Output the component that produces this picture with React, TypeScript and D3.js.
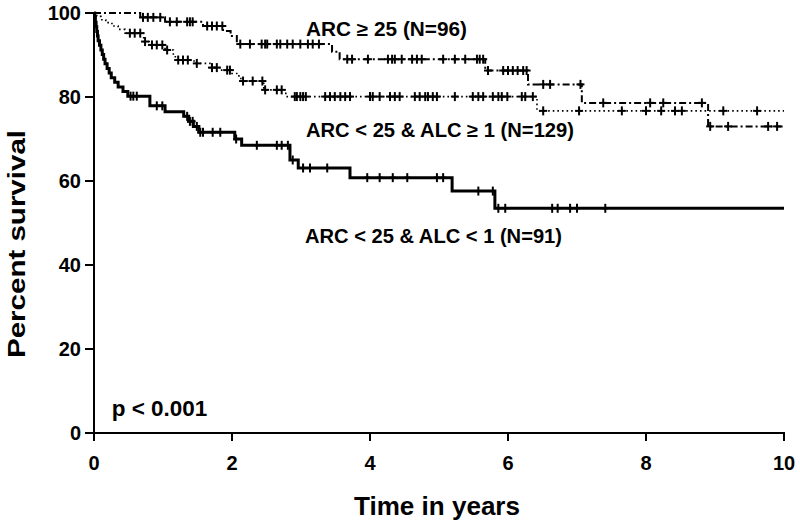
import React from "react";
import * as d3 from "d3";

// ---- Data (time in years, percent survival) ----
const xTicks = [0, 2, 4, 6, 8, 10];
const yTicks = [0, 20, 40, 60, 80, 100];

// ARC >= 25 (N=96) — dash-dot
const stepTimesA = [0, 0.67, 1.03, 1.58, 1.87, 1.98, 2.07, 3.45, 3.56, 5.67, 6.29, 7.07, 8.9];
const stepSurvA = [100, 98.96, 97.9, 96.9, 95.7, 94.5, 92.6, 90.8, 89.0, 86.3, 83.0, 78.6, 73.0];
const censorA = [0.71, 0.78, 0.86, 0.96, 1.1, 1.2, 1.35, 1.39, 1.43, 1.64, 1.71, 1.78, 1.86, 2.12, 2.26, 2.43, 2.48, 2.51, 2.65, 2.7, 2.8, 2.88, 2.99, 3.1, 3.17, 3.26, 3.67, 3.74, 3.97, 4.26, 4.32, 4.36, 4.46, 4.61, 4.68, 4.75, 5.06, 5.23, 5.38, 5.55, 5.59, 5.64, 5.71, 5.93, 6.0, 6.07, 6.14, 6.22, 6.27, 6.51, 6.61, 7.05, 7.38, 8.06, 8.25, 8.81, 8.93, 9.19, 9.77, 9.9];

// ARC < 25 & ALC >= 1 (N=129) — dotted
const stepTimesB = [0, 0.04, 0.1, 0.17, 0.26, 0.35, 0.45, 0.72, 0.8, 1.03, 1.15, 1.2, 1.45, 1.68, 1.85, 2.0, 2.1, 2.15, 2.46, 2.78, 6.42];
const stepSurvB = [100, 99.2, 98.4, 97.7, 96.9, 96.1, 95.2, 93.2, 92.4, 91.2, 89.6, 88.8, 88.0, 87.0, 86.4, 85.6, 84.4, 83.8, 81.7, 80.1, 76.7];
const censorB = [0.52, 0.59, 0.67, 0.74, 0.84, 0.91, 0.99, 1.06, 1.22, 1.29, 1.36, 1.49, 1.71, 1.78, 1.93, 1.97, 2.16, 2.3, 2.44, 2.48, 2.65, 2.72, 2.91, 2.94, 2.99, 3.03, 3.07, 3.35, 3.42, 3.49, 3.57, 3.64, 3.71, 4.0, 4.04, 4.14, 4.29, 4.36, 4.43, 4.65, 4.72, 4.8, 4.84, 4.91, 4.97, 5.23, 5.49, 5.57, 5.64, 5.78, 5.86, 5.91, 5.99, 6.2, 6.25, 6.36, 6.51, 7.03, 7.65, 8.0, 8.22, 8.42, 8.52, 9.12, 9.61];

// ARC < 25 & ALC < 1 (N=91) — solid
const stepTimesC = [0, 0.01, 0.02, 0.03, 0.04, 0.05, 0.06, 0.08, 0.1, 0.12, 0.14, 0.16, 0.19, 0.22, 0.25, 0.3, 0.35, 0.42, 0.49, 0.81, 1.03, 1.3, 1.37, 1.44, 1.52, 2.04, 2.14, 2.84, 2.96, 3.71, 5.19, 5.81];
const stepSurvC = [100, 98.9, 97.8, 96.7, 95.6, 94.5, 93.4, 92.3, 91.2, 90.1, 89.0, 87.9, 86.8, 85.7, 84.6, 83.5, 82.4, 81.3, 80.2, 77.9, 76.5, 75.4, 74.2, 73.0, 71.6, 70.0, 68.5, 65.0, 63.1, 60.8, 57.6, 53.5];
const censorC = [0.53, 0.57, 0.62, 0.91, 0.99, 1.35, 1.39, 1.43, 1.49, 1.54, 1.58, 1.72, 1.83, 2.06, 2.36, 2.65, 2.72, 2.81, 2.88, 3.03, 3.13, 3.38, 3.96, 4.14, 4.33, 4.54, 4.97, 5.06, 5.57, 5.78, 5.86, 5.96, 6.64, 6.72, 6.9, 7.0, 7.41];

const labels = ["ARC \u2265 25 (N=96)", "ARC < 25 & ALC \u2265 1 (N=129)", "ARC < 25 & ALC < 1 (N=91)"];

const W = 800;
const H = 527;
const x = d3.scaleLinear().domain([0, 10]).range([94, 784]);
const y = d3.scaleLinear().domain([0, 100]).range([433, 13]);

const FONT = "'Liberation Sans', Arial, Helvetica, sans-serif";

function stepPath(times: number[], surv: number[]) {
  const pts: [number, number][] = times.map((t, i) => [t, surv[i]]);
  pts.push([10, surv[surv.length - 1]]);
  const line = d3
    .line<[number, number]>()
    .x((d) => x(d[0]))
    .y((d) => y(d[1]))
    .curve(d3.curveStepAfter);
  return line(pts) || "";
}

function survAt(times: number[], surv: number[], t: number) {
  const i = d3.bisectRight(times, t) - 1;
  return surv[Math.max(0, i)];
}

function Censors({ times, surv, censor, w, h, sw }: { times: number[]; surv: number[]; censor: number[]; w: number; h: number; sw: number }) {
  return (
    <g stroke="#000" strokeWidth={sw}>
      {censor.map((t, i) => {
        const cx = x(t);
        const cy = y(survAt(times, surv, t));
        return (
          <g key={i}>
            <line x1={cx} x2={cx} y1={cy - h / 2} y2={cy + h / 2} />
            <line x1={cx - w / 2} x2={cx + w / 2} y1={cy} y2={cy} />
          </g>
        );
      })}
    </g>
  );
}

export default function App() {
  return (
    <svg width={W} height={H} style={{ position: "absolute", left: 0, top: 0, background: "#fff" }} fontFamily={FONT}>
      <rect width={W} height={H} fill="#fff" />
      {/* curves */}
      <path d={stepPath(stepTimesB, stepSurvB)} fill="none" stroke="#000" strokeWidth={1.6} strokeDasharray="1.6,3" />
      <path d={stepPath(stepTimesA, stepSurvA)} fill="none" stroke="#000" strokeWidth={2} strokeDasharray="7,3,2,3" />
      <path d={stepPath(stepTimesC, stepSurvC)} fill="none" stroke="#000" strokeWidth={3} />
      <Censors times={stepTimesA} surv={stepSurvA} censor={censorA} w={8} h={9} sw={2} />
      <Censors times={stepTimesB} surv={stepSurvB} censor={censorB} w={8} h={9} sw={2} />
      <Censors times={stepTimesC} surv={stepSurvC} censor={censorC} w={6} h={9} sw={2} />

      {/* axes */}
      <g stroke="#000" strokeWidth={2}>
        <line x1={x(0)} x2={x(0)} y1={y(100) - 1} y2={y(0) + 1} />
        <line x1={x(0) - 1} x2={x(10) + 1} y1={y(0)} y2={y(0)} />
        {yTicks.map((v) => (
          <line key={"yt" + v} x1={x(0) - 9} x2={x(0)} y1={y(v)} y2={y(v)} />
        ))}
        {xTicks.map((v) => (
          <line key={"xt" + v} x1={x(v)} x2={x(v)} y1={y(0)} y2={y(0) + 8} />
        ))}
      </g>
      <g fontWeight="bold" fontSize={20} fill="#000">
        {yTicks.map((v) => (
          <text key={"yl" + v} x={81} y={y(v)} textAnchor="end" dominantBaseline="central">
            {v}
          </text>
        ))}
        {xTicks.map((v) => (
          <text key={"xl" + v} x={x(v)} y={470} textAnchor="middle">
            {v}
          </text>
        ))}
      </g>

      {/* axis titles */}
      <text x={437} y={515} textAnchor="middle" fontWeight="bold" fontSize={26} textLength={166} lengthAdjust="spacingAndGlyphs">
        Time in years
      </text>
      <text transform="translate(25,244) rotate(-90)" textAnchor="middle" fontWeight="bold" fontSize={23.5} textLength={228} lengthAdjust="spacingAndGlyphs">
        Percent survival
      </text>

      {/* labels */}
      <g fontWeight="bold" fontSize={19.5}>
        <text x={306} y={35.7} textLength={161} lengthAdjust="spacingAndGlyphs">{labels[0]}</text>
        <text x={306} y={136.7} textLength={268} lengthAdjust="spacingAndGlyphs">{labels[1]}</text>
        <text x={305} y={242.7} textLength={257} lengthAdjust="spacingAndGlyphs">{labels[2]}</text>
        <text x={111.7} y={416} fontSize={22} textLength={95.6} lengthAdjust="spacingAndGlyphs">p &lt; 0.001</text>
      </g>
    </svg>
  );
}
